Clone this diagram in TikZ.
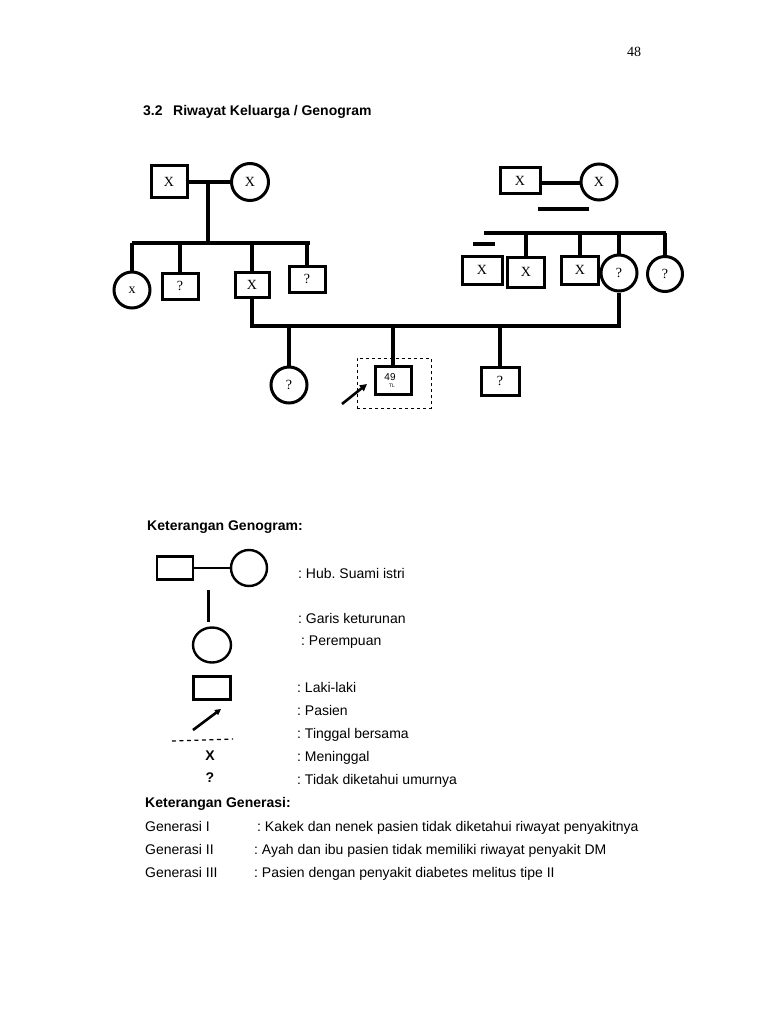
\documentclass[tikz,border=0pt]{standalone}
\usepackage{fontspec}
\setmainfont{Liberation Serif}
\setsansfont{Liberation Sans}
\usetikzlibrary{arrows.meta,shapes.geometric}
\frenchspacing
\newcommand{\lfont}{\sffamily\fontsize{14}{16}\selectfont}
\newcommand{\bfont}{\sffamily\bfseries\fontsize{14}{16}\selectfont}
\newcommand{\gfont}{\rmfamily\fontsize{14}{16}\selectfont}
\tikzset{
  sq/.style={draw, line width=3pt, minimum width=36pt, minimum height=26pt, inner sep=0pt, font=\gfont},
  ci/.style={draw, circle, line width=3pt, minimum size=36pt, inner sep=0pt, font=\gfont},
  ln/.style={line width=3.4pt},
  lsq/.style={draw, line width=2.4pt, minimum width=36pt, minimum height=23pt, inner sep=0pt},
  lci/.style={draw, circle, line width=2.4pt, minimum size=36pt, inner sep=0pt},
  leg/.style={line width=2.4pt},
  lab/.style={anchor=base west, font=\lfont, inner sep=0pt},
  blab/.style={anchor=base west, font=\bfont, inner sep=0pt},
}
\begin{document}
\begin{tikzpicture}[x=1pt,y=-1pt]
\useasboundingbox[fill=white] (0,0) rectangle (768,1024);

% header
\node[anchor=base west, inner sep=0pt, font=\rmfamily\fontsize{14}{16}\selectfont] (pg) at (627,57) {48};
\node[blab] (t1) at (143,116) {3.2};
\node[blab] (t2) at (173,116) {Riwayat Keluarga / Genogram};

% generation I left
\node[sq, minimum height=32pt] (g1m) at (169,182) {X};
\node[ci, minimum size=37pt] (g1f) at (250,182) {X};
\draw[ln] (g1m) -- (g1f);
\coordinate (m1) at (208,182);
\coordinate (s1c) at (208,243);
\coordinate (s1L) at (132,243);
\coordinate (s1R) at (310,243);
\draw[ln] (m1) -- (s1c);
\draw[ln] (s1L) -- (s1R);

% generation II left
\node[ci] (c1) at (132,290) {x};
\node[sq] (c2) at (180,286) {?};
\node[sq, minimum width=34pt, minimum height=25pt] (fa) at (252,285) {X};
\node[sq] (c4) at (307,279) {?};
\draw[ln] (s1L) -- (c1.north);
\draw[ln] (c2.north |- s1L) -- (c2.north);
\draw[ln] (fa.north |- s1L) -- (fa.north);
\draw[ln] (c4.north |- s1L) -- (c4.north);

% generation I right
\node[sq, minimum width=40pt] (g2m) at (520,181) {X};
\node[ci] (g2f) at (599,182) {X};
\draw[ln] (g2m.east |- 0,183) -- (g2f.west |- 0,183);
\coordinate (b1) at (538,209);
\coordinate (b2) at (589,209);
\draw[ln] (b1) -- (b2);
\coordinate (s2L) at (484,233);
\coordinate (s2R) at (666,233);
\draw[ln] (s2L) -- (s2R);
\coordinate (sb1) at (473,244);
\coordinate (sb2) at (495,244);
\draw[ln] (sb1) -- (sb2);

% generation II right
\node[sq, minimum width=40pt, minimum height=28pt] (d1) at (482,270) {X};
\node[sq, minimum width=37pt, minimum height=30pt] (d2) at (526,272) {X};
\node[sq, minimum width=37pt, minimum height=28pt] (d3) at (580,270) {X};
\node[ci] (mo) at (619,273) {?};
\node[ci, minimum size=35pt] (d5) at (665,274) {?};
\draw[ln] (d2.north |- s2L) -- (d2.north);
\draw[ln] (d3.north |- s2L) -- (d3.north);
\draw[ln] (mo.north |- s2L) -- (mo.north);
\draw[ln] (d5.north |- s2L) -- (d5.north);

% parents line
\coordinate (fl) at (252,326);
\coordinate (mr) at (619,326);
\draw[ln] (fa.south) -- (fl) -- (mr) -- (mo.south);

% generation III
\node[ci] (k1) at (289,385) {?};
\node[sq, minimum width=36pt, minimum height=28pt] (pt) at (393,380) {};
\node[sq, minimum width=38pt, minimum height=28pt] (k3) at (500,381) {?};
\draw[ln] (k1.north |- fl) -- (k1.north);
\draw[ln] (pt.north |- fl) -- (pt.north);
\draw[ln] (k3.north |- fl) -- (k3.north);
\node[inner sep=0pt, font=\sffamily\fontsize{10}{11}\selectfont] (age) at (390,377) {49};
\node[inner sep=0pt, font=\sffamily\fontsize{5}{6}\selectfont] (tl) at (392,386) {TL};
\node[draw, dashed, line width=0.9pt, minimum width=74pt, minimum height=50pt, inner sep=0pt] (tb) at (394,383) {};
\coordinate (a0) at (342,404);
\coordinate (a1) at (367,384);
\draw[line width=2.6pt, -{Triangle[length=7pt,width=7pt]}] (a0) -- (a1);

% legend
\node[blab] (kg) at (147,530) {Keterangan Genogram:};
\node[lsq] (l1) at (175,568) {};
\node[lci] (l2) at (249,568) {};
\draw[leg] (l1) -- (l2);
\coordinate (v1) at (208,590);
\coordinate (v2) at (208,622);
\draw[line width=3pt] (v1) -- (v2);
\node[draw, ellipse, line width=2.4pt, minimum width=38pt, minimum height=35pt, inner sep=0pt] (l3) at (212,645) {};
\node[lsq, minimum width=37pt, minimum height=23pt] (l4) at (212,688) {};
\coordinate (la0) at (193,730);
\coordinate (la1) at (221,709);
\draw[line width=2.6pt, -{Triangle[length=6pt,width=6pt]}] (la0) -- (la1);
\coordinate (ld0) at (172,741);
\coordinate (ld1) at (233,739);
\draw[line width=1.2pt, dash pattern=on 4pt off 3.5pt] (ld0) -- (ld1);
\node[inner sep=0pt, font=\bfont] (lx) at (210,756) {X};
\node[inner sep=0pt, font=\bfont] (lq) at (210,778) {?};

\node[lab] at (298,578) {: Hub. Suami istri};
\node[lab] at (298,623) {: Garis keturunan};
\node[lab] at (301,645) {: Perempuan};
\node[lab] at (297,692) {: Laki-laki};
\node[lab] at (297,715) {: Pasien};
\node[lab] at (297,738) {: Tinggal bersama};
\node[lab] at (297,761) {: Meninggal};
\node[lab] at (297,784) {: Tidak diketahui umurnya};

\node[blab] (kgen) at (145,807) {Keterangan Generasi:};
\node[lab] at (145,831) {Generasi I};
\node[lab] at (257,831) {: Kakek dan nenek pasien tidak diketahui riwayat penyakitnya};
\node[lab] at (145,854) {Generasi II};
\node[lab] at (254,854) {: Ayah dan ibu pasien tidak memiliki riwayat penyakit DM};
\node[lab] at (145,877) {Generasi III};
\node[lab] at (254,877) {: Pasien dengan penyakit diabetes melitus tipe II};
\end{tikzpicture}
\end{document}
